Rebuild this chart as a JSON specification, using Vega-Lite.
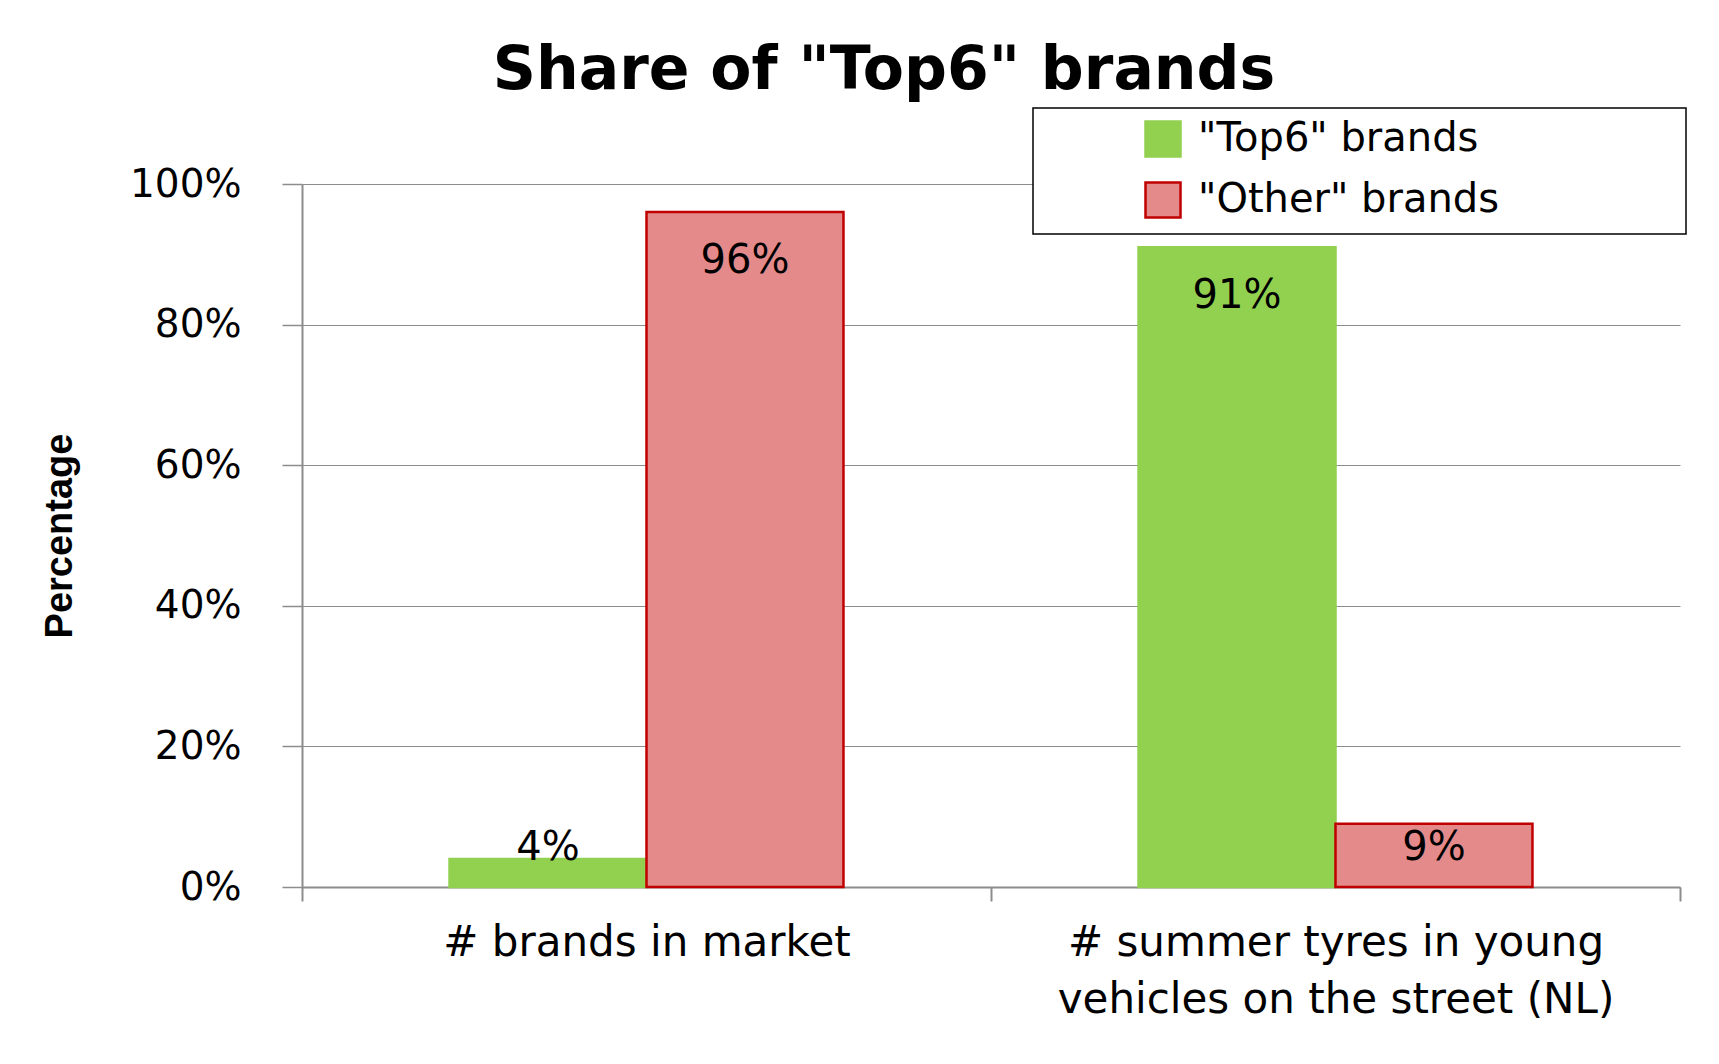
{
  "$schema": "https://vega.github.io/schema/vega-lite/v6.json",
  "width": 1378,
  "height": 703,
  "autosize": {"type": "none"},
  "padding": {"left": 302, "top": 184, "right": 39, "bottom": 177},
  "background": "white",
  "title": {
    "text": "Share of \"Top6\" brands",
    "font": "DejaVu Sans",
    "fontSize": 60,
    "fontWeight": "bold",
    "color": "black",
    "anchor": "middle",
    "dx": -107,
    "offset": 5
  },
  "data": {
    "values": [
      {"category": "# brands in market", "brand": "\"Top6\" brands", "value": 0.04},
      {"category": "# brands in market", "brand": "\"Other\" brands", "value": 0.96},
      {"category": "# summer tyres in young vehicles on the street (NL)", "brand": "\"Top6\" brands", "value": 0.91},
      {"category": "# summer tyres in young vehicles on the street (NL)", "brand": "\"Other\" brands", "value": 0.09}
    ]
  },
  "encoding": {
    "x": {
      "field": "category",
      "type": "nominal",
      "sort": null,
      "scale": {"paddingInner": 0, "paddingOuter": 0},
      "axis": {
        "title": null,
        "labelAngle": 0,
        "labelFont": "DejaVu Sans",
        "labelFontSize": 42,
        "labelColor": "black",
        "labelLineHeight": 57,
        "labelPadding": 21,
        "labelLimit": 0,
        "labelExpr": "datum.label == '# summer tyres in young vehicles on the street (NL)' ? ['# summer tyres in young', 'vehicles on the street (NL)'] : datum.label",
        "tickBand": "extent",
        "tickSize": 14,
        "tickColor": "#8c8c8c",
        "tickWidth": 2,
        "domainColor": "#8c8c8c",
        "domainWidth": 2,
        "grid": false
      }
    },
    "xOffset": {
      "field": "brand",
      "type": "nominal",
      "sort": ["\"Top6\" brands", "\"Other\" brands"],
      "scale": {"paddingInner": 0, "paddingOuter": 0.749}
    }
  },
  "layer": [
    {
      "mark": {"type": "bar", "strokeWidth": 2.5},
      "encoding": {
        "y": {
          "field": "value",
          "type": "quantitative",
          "scale": {"domain": [0, 1]},
          "axis": {
            "title": "Percentage",
            "titleFont": "Liberation Sans",
            "titleFontSize": 38,
            "titleFontWeight": "bold",
            "titleColor": "black",
            "titleX": -242,
            "titleBaseline": "middle",
            "values": [0, 0.2, 0.4, 0.6, 0.8, 1],
            "format": ".0%",
            "labelFont": "DejaVu Sans",
            "labelFontSize": 39,
            "labelColor": "black",
            "labelPadding": 41,
            "tickSize": 20,
            "tickColor": "#8c8c8c",
            "tickWidth": 1.5,
            "domainColor": "#8c8c8c",
            "domainWidth": 2,
            "grid": true,
            "gridColor": "#8c8c8c",
            "gridWidth": 1.2
          }
        },
        "fill": {
          "field": "brand",
          "type": "nominal",
          "sort": ["\"Top6\" brands", "\"Other\" brands"],
          "scale": {"domain": ["\"Top6\" brands", "\"Other\" brands"], "range": ["#92d050", "#e58a8a"]},
          "legend": {
            "title": null,
            "orient": "none",
            "legendX": 731,
            "legendY": -76,
            "padding": 11,
            "symbolType": "square",
            "symbolSize": 1225,
            "symbolStrokeWidth": 2.5,
            "symbolOffset": 99,
            "labelOffset": 15,
            "rowPadding": 15,
            "labelFont": "DejaVu Sans",
            "labelFontSize": 40,
            "labelColor": "black",
            "labelLimit": 0,
            "labelExpr": "datum.label + '\u2800\u2800\u2800\u2800\u2800\u2800'",
            "strokeColor": "black",
            "fillColor": "white"
          }
        },
        "stroke": {
          "field": "brand",
          "type": "nominal",
          "sort": ["\"Top6\" brands", "\"Other\" brands"],
          "scale": {"domain": ["\"Top6\" brands", "\"Other\" brands"], "range": ["#92d050", "#c00000"]},
          "legend": null
        }
      }
    },
    {
      "transform": [{"filter": "datum.value >= 0.5"}],
      "mark": {"type": "text", "font": "DejaVu Sans", "fontSize": 40, "color": "black", "baseline": "middle", "dy": 49},
      "encoding": {
        "y": {"field": "value", "type": "quantitative"},
        "text": {"field": "value", "type": "quantitative", "format": ".0%"}
      }
    },
    {
      "transform": [{"filter": "datum.value < 0.5"}],
      "mark": {"type": "text", "font": "DejaVu Sans", "fontSize": 40, "color": "black", "baseline": "middle"},
      "encoding": {
        "y": {"datum": 0.056, "type": "quantitative"},
        "text": {"field": "value", "type": "quantitative", "format": ".0%"}
      }
    }
  ],
  "config": {
    "view": {"stroke": null},
    "legend": {"strokeWidth": 1.5}
  }
}
